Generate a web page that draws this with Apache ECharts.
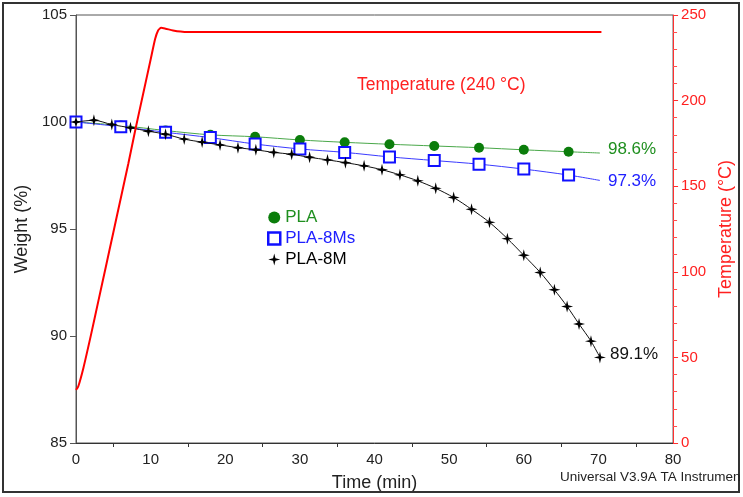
<!DOCTYPE html>
<html>
<head>
<meta charset="utf-8">
<script src="https://cdn.jsdelivr.net/npm/echarts@6/dist/echarts.min.js"></script>
<style>html,body{margin:0;padding:0;background:#fff;}#c{width:743px;height:497px;}</style>
</head>
<body>
<div id="c"></div>
<script>
// ---- data ----
const seriesNames = ['PLA', 'PLA-8Ms', 'PLA-8M'];
const endLabels = ['98.6%', '97.3%', '89.1%'];

const timePLA = [0, 6, 12, 18, 24, 30, 36, 42, 48, 54, 60, 66, 70.2];
const weightPLA = [100.0, 99.84, 99.6, 99.4, 99.31, 99.16, 99.05, 98.96, 98.88, 98.8, 98.7, 98.61, 98.55];

const timePLA8Ms = [0, 6, 12, 18, 24, 30, 36, 42, 48, 54, 60, 66, 70.2];
const weightPLA8Ms = [100.0, 99.78, 99.52, 99.27, 98.97, 98.74, 98.58, 98.37, 98.2, 98.03, 97.8, 97.52, 97.27];

const timePLA8M = [0, 2.4, 4.8, 7.3, 9.7, 12.0, 14.5, 16.9, 19.3, 21.7, 24.1, 26.5, 28.9, 31.3, 33.7, 36.1, 38.6, 41.0, 43.4, 45.8, 48.2, 50.6, 53.0, 55.4, 57.8, 60.0, 62.2, 64.1, 65.8, 67.4, 69.0, 70.2];
const weightPLA8M = [100.0, 100.08, 99.88, 99.73, 99.57, 99.43, 99.2, 99.06, 98.93, 98.8, 98.7, 98.58, 98.49, 98.35, 98.23, 98.1, 97.95, 97.77, 97.53, 97.25, 96.9, 96.47, 95.92, 95.31, 94.55, 93.77, 92.97, 92.16, 91.38, 90.56, 89.76, 89.0];

const timeTemp = [0, 0.3, 1, 2, 3, 4, 5, 6, 7, 8, 9, 10, 10.6, 11, 11.4, 12, 13, 14, 15, 70.4];
const tempValues = [31, 33, 44, 63, 83, 103, 123, 143, 163, 184, 204, 224, 236, 241, 242.5, 242, 241, 240.3, 240, 240];

const xTicks = { min: 0, max: 80, interval: 10 };
const yLeft = { min: 85, max: 105, interval: 5 };
const yRight = { min: 0, max: 250, interval: 50 };

// ---- build ----
function pairs(xs, ys, lastNoSymbol) {
  return xs.map((x, i) => {
    const item = { value: [x, ys[i]] };
    if (lastNoSymbol && i === xs.length - 1) item.symbol = 'none';
    return item;
  });
}
const starPath = 'path://M0,-10 L2,-2 L10,0 L2,2 L0,10 L-2,2 L-10,0 L-2,-2 Z';
const FONT = 'Liberation Sans, Arial, sans-serif';

const chart = echarts.init(document.getElementById('c'), null, { renderer: 'canvas' });
chart.setOption({
  animation: false,
  backgroundColor: '#fff',
  grid: { left: 76, right: 66, top: 15, bottom: 54, show: true, borderColor: '#555', borderWidth: 1, backgroundColor: 'transparent' },
  textStyle: { fontFamily: FONT },
  legend: {
    left: 262, top: 204, orient: 'vertical', itemGap: 4, itemWidth: 12, itemHeight: 12,
    textStyle: { fontSize: 17, fontFamily: FONT },
    data: [
      { name: seriesNames[0], icon: 'circle', itemStyle: { color: '#0b7d0b' }, textStyle: { color: '#1f8f1f' } },
      { name: seriesNames[1], icon: 'rect', itemStyle: { color: '#fff', borderColor: '#1010ff', borderWidth: 2.5 }, textStyle: { color: '#2020ff' } },
      { name: seriesNames[2], icon: starPath, itemStyle: { color: '#000' }, textStyle: { color: '#000' } }
    ]
  },
  xAxis: {
    type: 'value', min: xTicks.min, max: xTicks.max, interval: xTicks.interval,
    name: 'Time (min)', nameLocation: 'middle', nameGap: 31,
    nameTextStyle: { fontSize: 18, color: '#222', fontFamily: FONT },
    axisLine: { show: true, lineStyle: { color: '#333', width: 1 } },
    axisTick: { show: false },
    minorTick: { show: true, splitNumber: 2, length: 4, lineStyle: { color: '#333' } },
    splitLine: { show: false },
    axisLabel: { fontSize: 15, color: '#222', margin: 9, fontFamily: FONT }
  },
  yAxis: [
    {
      type: 'value', min: yLeft.min, max: yLeft.max, interval: yLeft.interval, position: 'left',
      name: 'Weight (%)', nameLocation: 'middle', nameGap: 40, nameRotate: 90,
      nameTextStyle: { fontSize: 18, color: '#222', fontFamily: FONT },
      axisLine: { show: true, lineStyle: { color: '#555' } },
      axisTick: { show: true, length: 6, lineStyle: { color: '#555' } },
      splitLine: { show: false },
      axisLabel: { fontSize: 15, color: '#222', margin: 9, fontFamily: FONT }
    },
    {
      type: 'value', min: yRight.min, max: yRight.max, interval: yRight.interval, position: 'right',
      name: 'Temperature (°C)', nameLocation: 'middle', nameGap: 36, nameRotate: 90,
      nameTextStyle: { fontSize: 18, color: '#ff2020', fontFamily: FONT },
      axisLine: { show: true, lineStyle: { color: '#ff3030' } },
      axisTick: { show: true, length: 5, lineStyle: { color: '#ff3030' } },
      minorTick: { show: true, splitNumber: 5, length: 4, lineStyle: { color: '#ff5050' } },
      splitLine: { show: false },
      axisLabel: { fontSize: 15, color: '#ff2020', margin: 8, fontFamily: FONT }
    }
  ],
  series: [
    {
      name: seriesNames[0], type: 'line', yAxisIndex: 0, data: pairs(timePLA, weightPLA, true),
      symbol: 'circle', symbolSize: 10, smooth: 0.3,
      itemStyle: { color: '#0b7d0b' }, lineStyle: { color: '#4aa84a', width: 1 },
      endLabel: { show: true, formatter: endLabels[0], color: '#1f8f1f', fontSize: 17, fontFamily: FONT, offset: [0, -4] },
      z: 3
    },
    {
      name: seriesNames[1], type: 'line', yAxisIndex: 0, data: pairs(timePLA8Ms, weightPLA8Ms, true),
      symbol: 'rect', symbolSize: 11, smooth: 0.3,
      itemStyle: { color: '#fff', borderColor: '#1010ff', borderWidth: 2 }, lineStyle: { color: '#3a3aff', width: 1 },
      endLabel: { show: true, formatter: endLabels[1], color: '#2020ff', fontSize: 17, fontFamily: FONT, offset: [0, 1] },
      z: 4
    },
    {
      name: seriesNames[2], type: 'line', yAxisIndex: 0, data: pairs(timePLA8M, weightPLA8M, false),
      symbol: starPath, symbolSize: 12, smooth: 0.3,
      itemStyle: { color: '#000' }, lineStyle: { color: '#111', width: 1 },
      endLabel: { show: true, formatter: endLabels[2], color: '#111', fontSize: 17, fontFamily: FONT, offset: [2, -3] },
      z: 5
    },
    {
      name: 'Temperature', type: 'line', yAxisIndex: 1, data: pairs(timeTemp, tempValues, false),
      symbol: 'none', smooth: 0.2,
      lineStyle: { color: '#ff0000', width: 2 },
      z: 6
    }
  ],
  graphic: [
    { type: 'rect', shape: { x: 3, y: 3, width: 736, height: 489 }, style: { fill: 'none', stroke: '#333', lineWidth: 2 }, z: 100 },
    { type: 'text', left: 357, top: 76, style: { text: 'Temperature (240 °C)', fill: '#ff2020', font: '17.5px ' + FONT }, z: 100 },
    { type: 'text', left: 560, top: 470, style: { text: 'Universal V3.9A TA Instrumen', fill: '#222', font: '13.5px ' + FONT }, z: 100 }
  ]
});
</script>
</body>
</html>
